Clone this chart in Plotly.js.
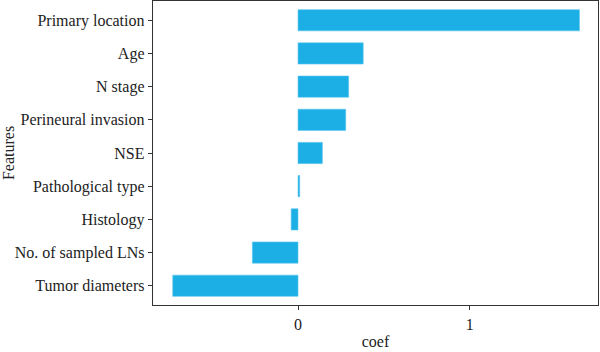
<!DOCTYPE html>
<html>
<head>
<meta charset="utf-8">
<script src="https://cdn.plot.ly/plotly-3.0.1.min.js"></script>
<style>html,body{margin:0;padding:0;background:#fff;}#chart{width:600px;height:352px;}</style>
</head>
<body>
<div id="chart"></div>
<script>
const features = ["Tumor diameters", "No. of sampled LNs", "Histology", "Pathological type", "NSE", "Perineural invasion", "N stage", "Age", "Primary location"];
const coefs = [-0.73, -0.266, -0.04, 0.01, 0.142, 0.278, 0.295, 0.38, 1.64];
const xTicks = [0, 1];

const fontFam = "Liberation Serif, DejaVu Serif, serif";
Plotly.newPlot("chart", [{
  type: "bar",
  orientation: "h",
  y: features,
  x: coefs,
  width: 0.64,
  marker: {color: "#1cafe5", line: {color: "#5cc6ee", width: 0.6}},
  hoverinfo: "x+y"
}], {
  width: 600, height: 352,
  margin: {l: 153, r: 2, t: 1, b: 47, pad: 0},
  paper_bgcolor: "#fff", plot_bgcolor: "#fff",
  font: {family: fontFam, size: 16, color: "#222"},
  showlegend: false,
  xaxis: {
    range: [-0.845, 1.748], tickvals: xTicks, ticktext: xTicks.map(String),
    showgrid: false, zeroline: false, showline: true, mirror: true,
    linecolor: "#333", linewidth: 1.3, ticks: "outside", ticklen: 4, tickcolor: "#333",
    tickfont: {family: fontFam, size: 16, color: "#222"},
    title: {text: "coef", font: {family: fontFam, size: 16, color: "#222"}, standoff: 4}
  },
  yaxis: {
    range: [-0.58, 8.58], type: "category",
    showgrid: false, zeroline: false, showline: true, mirror: true,
    linecolor: "#333", linewidth: 1.3, ticks: "outside", ticklen: 4, tickcolor: "#333",
    tickfont: {family: fontFam, size: 16, color: "#222"},
    title: {text: "Features", font: {family: fontFam, size: 16, color: "#222"}, standoff: 4}
  }
}, {displayModeBar: false, staticPlot: true});
</script>
</body>
</html>
